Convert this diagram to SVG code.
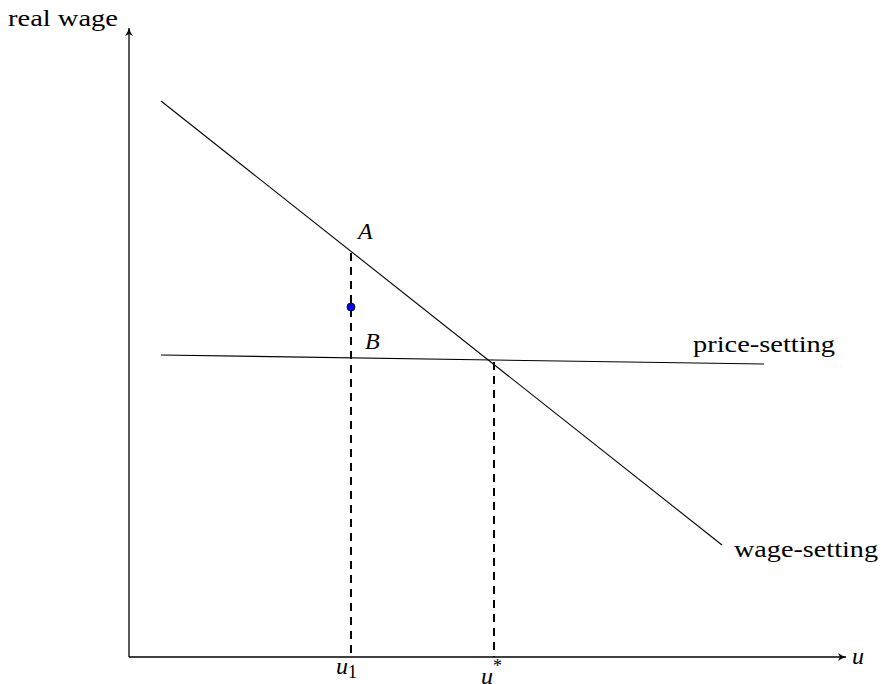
<svg xmlns="http://www.w3.org/2000/svg" width="881" height="684" viewBox="0 0 881 684">
<style>
text{font-family:"Liberation Serif","DejaVu Serif",serif;fill:#000;font-size:24px}
.it{font-style:italic}
.ln{stroke:#000;stroke-width:1.1;fill:none}
.ax{stroke:#000;stroke-width:1.3;fill:none}
.ds{stroke:#000;stroke-width:2;stroke-dasharray:8,6;fill:none}
</style>
<defs>
<marker id="arr" markerWidth="12" markerHeight="10" refX="9" refY="5" orient="auto" markerUnits="userSpaceOnUse">
<path d="M1,1 Q5,4 9,5 Q5,6 1,9 L3,5 Z" fill="#000"/>
</marker>
</defs>
<rect width="881" height="684" fill="#fff"/>
<g id="connectors">
<line id="yaxis" class="ax" x1="129" y1="657" x2="129" y2="28" marker-end="url(#arr)"/>
<line id="xaxis" class="ax" x1="129" y1="657" x2="846" y2="657" marker-end="url(#arr)"/>
<line id="wage-line" class="ln" x1="161" y1="101" x2="722" y2="545"/>
<line id="price-line" class="ln" x1="161" y1="355" x2="764" y2="364"/>
<line id="u1-dash" class="ds" x1="351" y1="253" x2="351" y2="657"/>
<line id="ustar-dash" class="ds" x1="494" y1="362" x2="494" y2="657"/>
</g>
<g id="point"><circle cx="351" cy="307" r="4" fill="#0000ff" stroke="#000" stroke-width="0.8"/></g>
<g id="labels">
<text x="8" y="26" textLength="110" lengthAdjust="spacingAndGlyphs">real wage</text>
<text x="693" y="352" textLength="142" lengthAdjust="spacingAndGlyphs">price-setting</text>
<text x="734" y="557" textLength="144" lengthAdjust="spacingAndGlyphs">wage-setting</text>
<text class="it" x="358" y="239" font-size="27">A</text>
<text class="it" x="365" y="349" font-size="27">B</text>
<text class="it" x="852" y="664" font-size="27">u</text>
<text class="it" x="336" y="674" font-size="27">u<tspan font-style="normal" font-size="18" dy="4">1</tspan></text>
<text class="it" x="481" y="684" font-size="27">u<tspan font-style="normal" font-size="18" dy="-12">*</tspan></text>
</g>
</svg>
